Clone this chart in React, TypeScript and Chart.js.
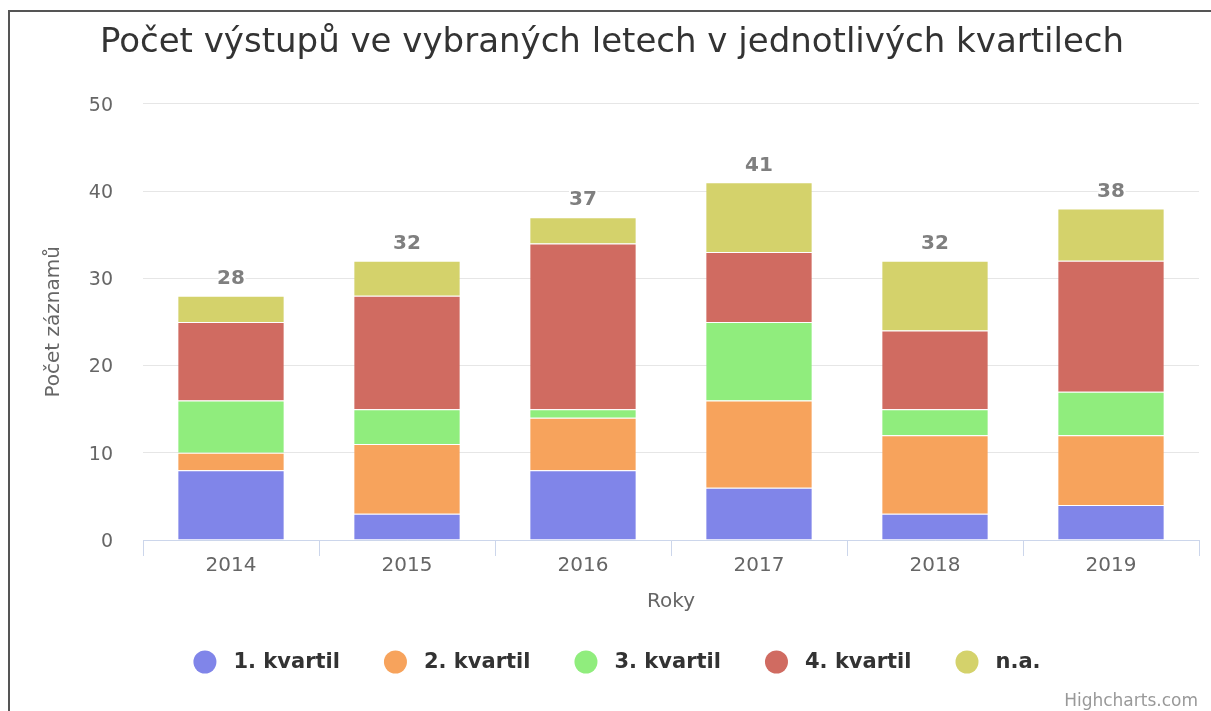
import React, { useEffect, useRef } from "react";
import { Chart, registerables } from "chart.js";

Chart.register(...registerables);

const years = ["2014", "2015", "2016", "2017", "2018", "2019"];
const kvartil1 = [8, 3, 8, 6, 3, 4];
const kvartil2 = [2, 8, 6, 10, 9, 8];
const kvartil3 = [6, 4, 1, 9, 3, 5];
const kvartil4 = [9, 13, 19, 8, 9, 15];
const notAvailable = [3, 4, 3, 8, 8, 6];
const seriesNames = ["1. kvartil", "2. kvartil", "3. kvartil", "4. kvartil", "n.a."];
const seriesColors = ["#8085e9", "#f7a35c", "#90ed7d", "#d06b61", "#d4d26b"];
const yTicks = [0, 10, 20, 30, 40, 50];
const titleText = "Počet výstupů ve vybraných letech v jednotlivých kvartilech";
const yTitle = "Počet záznamů";
const xTitle = "Roky";
const creditText = "Highcharts.com";

const FONT = "'DejaVu Sans', sans-serif";
const W = 1211;
const H = 711;

const stackTotalsPlugin = {
  id: "stackTotals",
  afterDatasetsDraw(chart: any) {
    const ctx = chart.ctx;
    const xs = chart.scales.x;
    const ys = chart.scales.y;
    ctx.save();
    ctx.font = `bold 20px ${FONT}`;
    ctx.textAlign = "center";
    ctx.textBaseline = "middle";
    chart.data.labels.forEach((_: any, i: number) => {
      const total = chart.data.datasets.reduce((s: number, d: any) => s + Number(d.data[i]), 0);
      const px = xs.getPixelForValue(i);
      const py = ys.getPixelForValue(total) - 17;
      ctx.lineJoin = "round";
      ctx.lineWidth = 4;
      ctx.strokeStyle = "#ffffff";
      ctx.strokeText(String(total), px, py);
      ctx.fillStyle = "#7f7f7f";
      ctx.fillText(String(total), px, py);
    });
    ctx.restore();
  },
};

const legendPlugin = {
  id: "customLegend",
  afterDraw(chart: any) {
    const ctx = chart.ctx;
    ctx.save();
    ctx.font = `bold 21px ${FONT}`;
    ctx.textBaseline = "middle";
    ctx.textAlign = "left";
    const r = 11.5;
    const gap = 17;
    const itemDist = 44;
    const items = chart.data.datasets.map((d: any) => ({
      label: d.label,
      color: d.backgroundColor,
      w: ctx.measureText(d.label).width,
    }));
    const total =
      items.reduce((s: number, it: any) => s + 2 * r + gap + it.w, 0) + itemDist * (items.length - 1);
    let x = 617 - total / 2;
    const cy = 662;
    items.forEach((it: any) => {
      ctx.beginPath();
      ctx.fillStyle = it.color;
      ctx.arc(x + r, cy, r, 0, Math.PI * 2);
      ctx.fill();
      ctx.fillStyle = "#333333";
      ctx.fillText(it.label, x + 2 * r + gap, cy + 1);
      x += 2 * r + gap + it.w + itemDist;
    });
    // credits
    ctx.font = `17px ${FONT}`;
    ctx.fillStyle = "#999999";
    ctx.textAlign = "right";
    ctx.fillText(creditText, 1198, 702);
    ctx.restore();
  },
};

export default function App() {
  const ref = useRef<HTMLCanvasElement | null>(null);

  useEffect(() => {
    if (!ref.current) return;
    const series = [kvartil1, kvartil2, kvartil3, kvartil4, notAvailable];
    const chart = new Chart(ref.current, {
      type: "bar",
      data: {
        labels: years,
        datasets: series.map((data, i) => ({
          label: seriesNames[i],
          data,
          backgroundColor: seriesColors[i],
          borderColor: "#ffffff",
          borderWidth: { top: 1, right: 0, bottom: 0, left: 0 },
          borderSkipped: "start",
          categoryPercentage: 1,
          barPercentage: 0.6,
        })),
      },
      options: {
        responsive: false,
        maintainAspectRatio: false,
        animation: false,
        devicePixelRatio: 1,
        layout: { padding: { left: 25, right: 12, top: 0, bottom: 98 } },
        plugins: {
          legend: { display: false },
          tooltip: { enabled: false },
          title: {
            display: true,
            text: titleText,
            color: "#333333",
            font: { family: FONT, size: 34, weight: "normal" },
            padding: { top: 23, bottom: 40 },
          },
        },
        scales: {
          x: {
            stacked: true,
            afterFit: (s: any) => {
              s.height = 73;
            },
            grid: {
              offset: true,
              drawOnChartArea: false,
              drawTicks: true,
              tickLength: 16,
              color: "#ccd6eb",
            },
            border: { display: true, color: "#ccd6eb", width: 1 },
            ticks: {
              color: "#666666",
              font: { family: FONT, size: 20 },
              padding: -2,
              maxRotation: 0,
            },
            title: {
              display: true,
              text: xTitle,
              color: "#666666",
              font: { family: FONT, size: 20 },
              padding: { top: 0, bottom: -1 },
            },
          },
          y: {
            stacked: true,
            min: yTicks[0],
            max: yTicks[yTicks.length - 1],
            afterFit: (s: any) => {
              s.width = 118;
            },
            grid: { color: "#e6e6e6", drawTicks: false },
            border: { display: false },
            ticks: {
              stepSize: yTicks[1] - yTicks[0],
              color: "#666666",
              font: { family: FONT, size: 19 },
              padding: 30,
              labelOffset: 2,
            },
            title: {
              display: true,
              text: yTitle,
              color: "#666666",
              font: { family: FONT, size: 20 },
              padding: { top: 17, bottom: 0 },
            },
          },
        },
      },
      plugins: [stackTotalsPlugin, legendPlugin],
    });
    return () => chart.destroy();
  }, []);

  return (
    <>
      <div
        style={{
          position: "fixed",
          left: 8,
          top: 10,
          width: W - 8,
          height: H - 10,
          borderLeft: "2px solid #555555",
          borderTop: "2px solid #555555",
          boxSizing: "border-box",
        }}
      />
      <canvas
        ref={ref}
        width={W}
        height={H}
        style={{ position: "fixed", left: 0, top: 0, width: W, height: H, zIndex: 1 }}
      />
    </>
  );
}
